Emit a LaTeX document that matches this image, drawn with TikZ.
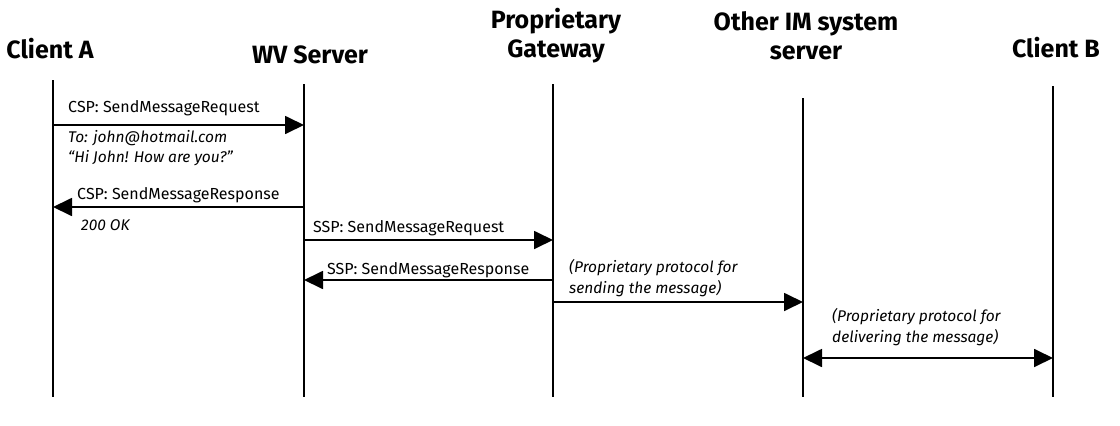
\documentclass[tikz,border=0pt]{standalone}
\usepackage{fontspec}
\setmainfont{Fira Sans}
\usetikzlibrary{arrows.meta}
\begin{document}
\begin{tikzpicture}[x=1pt,y=-1pt,
  actor/.style={font=\fontsize{25}{29}\selectfont\bfseries, align=center, inner sep=0pt},
  lifeline/.style={line width=1.8pt},
  msg/.style={line width=1.8pt, -{Triangle[length=19pt,width=18pt]}},
  bimsg/.style={line width=1.8pt, {Triangle[length=19pt,width=18pt]}-{Triangle[length=19pt,width=18pt]}},
  lbl/.style={font=\fontsize{16}{19}\selectfont, anchor=west, inner sep=0pt},
  note/.style={font=\fontsize{15.5}{20.5}\selectfont\itshape, anchor=west, inner sep=0pt, align=left}]
\useasboundingbox (0,0) rectangle (1120,426);

% participants
\node[actor] (ca) at (50,49) {Client A};
\node[actor] (wv) at (310,55) {WV Server};
\node[actor] (gw) at (556,36) {Proprietary\\Gateway};
\node[actor] (im) at (806,36) {Other IM system\\server};
\node[actor] (cb) at (1056,48) {Client B};

% lifelines
\coordinate (caT) at (53,80);   \coordinate (caB) at (53,397);
\coordinate (wvT) at (304,84);  \coordinate (wvB) at (304,397);
\coordinate (gwT) at (553,84);  \coordinate (gwB) at (553,397);
\coordinate (imT) at (803,98);  \coordinate (imB) at (803,397);
\coordinate (cbT) at (1053,86); \coordinate (cbB) at (1053,397);
\foreach \l in {ca,wv,gw,im,cb} \draw[lifeline] (\l T) -- (\l B);

% message end points on the lifelines
\coordinate (m1s) at (53,125);  \coordinate (m1e) at (304,125);
\coordinate (m2s) at (304,207); \coordinate (m2e) at (53,207);
\coordinate (m3s) at (304,240); \coordinate (m3e) at (553,240);
\coordinate (m4s) at (553,280); \coordinate (m4e) at (304,280);
\coordinate (m5s) at (553,302); \coordinate (m5e) at (803,302);
\coordinate (m6s) at (803,358); \coordinate (m6e) at (1053,358);

% messages
\draw[msg] (m1s) -- (m1e);
\draw[msg] (m2s) -- (m2e);
\draw[msg] (m3s) -- (m3e);
\draw[msg] (m4s) -- (m4e);
\draw[msg] (m5s) -- (m5e);
\draw[bimsg] (m6s) -- (m6e);

% labels
\node[lbl] (l1) at (68,108) {CSP: SendMessageRequest};
\node[note] (n1) at (68,148) {To: john@hotmail.com\\“Hi John! How are you?”};
\node[lbl] (l2) at (77,195) {CSP: SendMessageResponse};
\node[note] (n2) at (81,225) {200 OK};
\node[lbl] (l3) at (313,228) {SSP: SendMessageRequest};
\node[lbl] (l4) at (327,270) {SSP: SendMessageResponse};
\node[note] (n3) at (569,278) {(Proprietary protocol for\\sending the message)};
\node[note] (n4) at (832,327) {(Proprietary protocol for\\delivering the message)};
\end{tikzpicture}
\end{document}
